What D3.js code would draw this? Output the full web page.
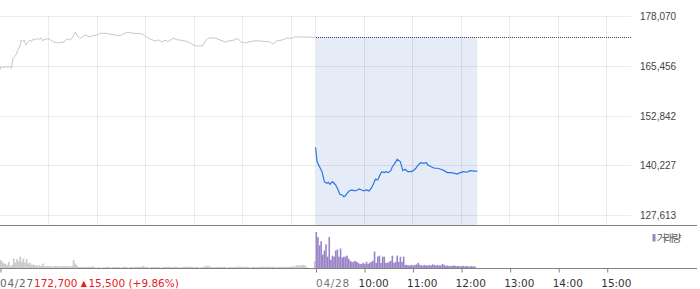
<!DOCTYPE html>
<html>
<head>
<meta charset="utf-8">
<script src="https://cdn.jsdelivr.net/npm/d3@7/dist/d3.min.js"></script>
<style>
  body { margin: 0; background: #fff; }
  svg { display: block; font-family: "DejaVu Sans", sans-serif; }
</style>
</head>
<body>
<script>
// price axis (right side)
var priceTicks = [127613, 140227, 152842, 165456, 178070];
var prevClose = 172700;

// 04/27 summary shown under the chart
var day1Label = '04/27', day2Label = '04/28';
var closeText = '172,700', changeText = '15,500', changePctText = '(+9.86%)';
var hourLabels = ['10:00', '11:00', '12:00', '13:00', '14:00', '15:00'];

// 04/27 price line (time, price)
var day1Times = ['09:00','09:01','09:04','09:07','09:10','09:12','09:14','09:16','09:18','09:20',
  '09:22','09:24','09:25','09:26','09:28','09:30','09:32','09:35','09:37','09:39',
  '09:41','09:43','09:46','09:49','09:51','09:53','09:55','09:57','09:59','10:02',
  '10:06','10:10','10:14','10:19','10:23','10:27','10:30','10:33','10:35','10:39',
  '10:43','10:46','10:50','10:54','10:59','11:04','11:10','11:16','11:22','11:28',
  '11:35','11:37','11:43','11:49','11:56','11:59','12:03','12:08','12:12','12:16',
  '12:20','12:24','12:28','12:34','12:40','12:45','12:49','12:55','13:00','13:05',
  '13:11','13:13','13:17','13:22','13:26','13:32','13:38','13:44','13:50','13:54',
  '13:58','14:03','14:09','14:15','14:21','14:28','14:34','14:37','14:42','14:49',
  '14:55','15:01','15:05','15:08','15:13','15:21','15:30'];
var day1Prices = [164400,165200,165000,165300,165100,165300,164800,167350,167800,168350,
  169450,170200,170700,172000,171500,172000,170700,171500,172000,171600,
  172250,172000,172400,172100,172500,171750,172300,172050,172400,172050,
  171550,171300,171300,171550,172250,172000,172750,173950,173250,172400,
  173000,173250,172750,173000,173250,173700,173700,173500,173250,173100,
  173750,173950,173750,173650,173500,173000,172500,172050,171750,172000,
  171500,171900,171600,172400,172000,171900,171750,171250,170550,170450,
  170550,171500,172400,172550,172500,172000,171500,171800,172000,172400,
  171400,171250,171550,171800,171750,171600,171500,170950,171750,172000,
  172500,172400,172850,172750,172750,172700,172700];

// 04/28 price line (time, price)
var day2Times = ['09:00','09:02','09:05','09:08','09:11','09:14','09:16','09:18','09:21','09:23',
  '09:25','09:28','09:30','09:33','09:35','09:37','09:39','09:42','09:45','09:48',
  '09:52','09:54','09:57','10:00','10:03','10:06','10:09','10:12','10:14','10:17',
  '10:20','10:22','10:25','10:27','10:30','10:33','10:35','10:38','10:41','10:45',
  '10:48','10:51','10:54','10:58','11:01','11:04','11:07','11:10','11:14','11:17',
  '11:19','11:23','11:27','11:31','11:35','11:39','11:43','11:47','11:51','11:55',
  '11:59','12:03','12:07','12:11','12:16','12:20'];
var day2Prices = [144800,141150,139900,138650,136100,135700,135950,135450,136100,135700,
  135250,134000,132900,132750,132300,132500,133150,133800,134000,133800,
  134000,134250,134000,133800,134000,133750,134450,135700,136700,136550,
  137950,138650,138400,138650,138400,138900,139900,140750,141750,141150,
  138900,139250,138650,138650,138900,139500,140350,140900,140750,140900,
  140350,139900,139500,139500,139250,138900,138400,138400,138250,138050,
  138400,138650,138500,138900,138800,138800];

// volume, 2-minute buckets from 09:00 (thousand shares)
var day1Volume = [7.7,6,4.3,4.3,2.7,6,2,3,9.3,5.3, 8.7,6.7,11,6,9.3,5.3,8.7,4.3,5.3,3.3,
  3.3,2.7,2.7,2,2.7,2,4.3,1.7,1.7,2, 1.7,1.7,1.3,1.7,2,1.7,1.7,1.3,1.7,1.7,
  2,1.7,1.7,1.3,2,7.7,4.3,2.7,1,1, 1,1,1,1,1,1.3,1,1.7,0.7,0,
  0.7,0.7,0,0.7,0.7,0.7,1.2,1,0,1, 1,0.7,1,1,0,1,1,1.3,1,0,
  1,1,0.7,1,1,1.3,1,1.3,2,1.3, 1,1,0,1,1,1,0.7,1,1,0,
  1,0.7,1,1,1.3,1,1,0.7,1.3,1, 1,0,1,1,1.3,1,1.3,1.3,1,1,
  0.7,1,1,0,1,1,1.3,2,2,1.7, 1,1,0.7,1,1,1,1,1,1.3,1,
  0,1,1,0.7,1,1,1.3,1.3,1.3,1.3, 1,1,1.3,1,0,1,1,0.7,1,1,
  1,1.3,1.3,1,1.3,1.3,1,1,1.3,1, 0.7,1,1,1,1.3,1,1.3,1,1,1.3,
  1.3,2,1.3,2.7,2.7,2.3,2.7,3,2.7,1, 0,0,0,0,6.7];
var day2Volume = [35,30,22,26,13,17,23,11,30,8, 12,11,17,18,11,19,10,11,11,12,
  9,7,6,6,7,6,5,4,4,5, 4,6,4,5,6,7,16,5,11,12,
  5,11,11,5,5,6,7,12,5,6, 12,6,11,6,11,3,3,2.5,2.5,3,
  2.5,3,3.5,5,3,2.5,2.5,3,2.5,2.5, 3,2.5,3.5,3,2.5,3,2.5,2.5,4,3,
  2,2.5,2,2,2,2.5,2,2,2,1.5, 2,2,1.5,2,1.5,1.5,2,1.5,1.5];

//setup sizes
var width = 700, height = 289;
var plotRight = 631, panelBottom = 225.5, axisY = 268.5;

//trading minutes: 04/27 09:00 = 0, 04/28 09:00 = 390
function toMinute(day, t) {
    var p = t.split(':');
    return day * 390 + (+p[0] - 9) * 60 + (+p[1]);
}

var xScale = d3.scaleLinear().domain([0, 780]).range([0, plotRight]);
var yScale = d3.scaleLinear().domain([priceTicks[0], priceTicks[priceTicks.length - 1]]).range([215.2, 16]);
var vScale = d3.scaleLinear().domain([0, 35]).range([268, 232]);

var day1 = day1Times.map(function(t, i) { return {m: toMinute(0, t), p: day1Prices[i]}; });
var day2 = day2Times.map(function(t, i) { return {m: toMinute(1, t), p: day2Prices[i]}; });

var svg = d3.select('body').append('svg')
    .attr('width', width)
    .attr('height', height);

//blue box from previous close down to panel bottom
var boxX0 = Math.round(xScale(390)), boxX1 = xScale(day2[day2.length - 1].m);
svg.append('rect')
    .attr('x', boxX0)
    .attr('y', yScale(prevClose))
    .attr('width', boxX1 - boxX0)
    .attr('height', panelBottom - yScale(prevClose))
    .attr('fill', '#e5ecf8');

//horizontal grid + right labels
var yAxis = d3.axisRight(yScale)
    .tickValues(priceTicks)
    .tickSize(0)
    .tickPadding(9)
    .tickFormat(d3.format(','));
var yg = svg.append('g')
    .attr('transform', 'translate(' + plotRight + ',0)')
    .call(yAxis);
yg.select('.domain').remove();
yg.selectAll('text')
    .attr('fill', '#444')
    .style('font-size', '10px')
    .attr('dy', '3.5')
    .attr('x', 9);

svg.append('g').selectAll('line')
    .data(priceTicks)
    .enter().append('line')
    .attr('x1', 0)
    .attr('x2', plotRight)
    .attr('y1', function(d) { return Math.round(yScale(d)) + 0.5; })
    .attr('y2', function(d) { return Math.round(yScale(d)) + 0.5; })
    .attr('stroke', 'rgba(0,0,0,0.08)');

//vertical grid every hour
var gridMinutes = d3.range(60, 390, 60).concat([390]).concat(d3.range(450, 780, 60));
svg.append('g').selectAll('line')
    .data(gridMinutes)
    .enter().append('line')
    .attr('x1', function(d) { return Math.floor(xScale(d)) + 0.5; })
    .attr('x2', function(d) { return Math.floor(xScale(d)) + 0.5; })
    .attr('y1', 16)
    .attr('y2', panelBottom)
    .attr('stroke', 'rgba(0,0,0,0.08)');

//previous close dotted line
svg.append('line')
    .attr('x1', Math.round(xScale(390)))
    .attr('x2', plotRight)
    .attr('y1', Math.round(yScale(prevClose)) + 0.5)
    .attr('y2', Math.round(yScale(prevClose)) + 0.5)
    .attr('stroke', '#444')
    .attr('stroke-dasharray', '1,1')
    .attr('shape-rendering', 'crispEdges');

//price lines
var line = d3.line()
    .x(function(d) { return xScale(d.m); })
    .y(function(d) { return yScale(d.p); });

svg.append('path')
    .datum(day1)
    .attr('d', line)
    .attr('fill', 'none')
    .attr('stroke', '#c8c8c8')
    .attr('stroke-width', 1);

svg.append('path')
    .datum(day2)
    .attr('d', line)
    .attr('fill', 'none')
    .attr('stroke', '#2b76e0')
    .attr('stroke-width', 1.2);

//volume bars
function drawVolume(data, day, color) {
    svg.append('g').selectAll('rect')
        .data(data)
        .enter().append('rect')
        .attr('x', function(d, i) { return xScale(day * 390 + i * 2); })
        .attr('width', function(d, i) { return xScale(day * 390 + i * 2 + 2) - xScale(day * 390 + i * 2); })
        .attr('y', function(d) { return vScale(d); })
        .attr('height', function(d) { return vScale(0) - vScale(d); })
        .attr('fill', color);
}
drawVolume(day1Volume, 0, '#c8c8c8');
drawVolume(day2Volume, 1, '#9a84c6');

//panel separators
svg.append('line')
    .attr('x1', 0).attr('x2', 697)
    .attr('y1', panelBottom).attr('y2', panelBottom)
    .attr('stroke', '#808080');

//time axis
var tickMinutes = [0, 390].concat(d3.range(450, 780, 60));
var xAxis = d3.axisBottom(xScale)
    .tickValues(tickMinutes)
    .tickSize(4)
    .tickFormat('');
var xg = svg.append('g')
    .attr('transform', 'translate(0,' + axisY + ')')
    .call(xAxis);
xg.select('.domain').remove();
xg.selectAll('line').attr('stroke', '#808080')
    .attr('transform', function() { return 'translate(0.5,0)'; });
svg.append('line')
    .attr('x1', 0).attr('x2', 697)
    .attr('y1', axisY).attr('y2', axisY)
    .attr('stroke', '#808080');

var labelY = 286.5;
svg.append('text')
    .attr('x', 0).attr('y', labelY)
    .attr('fill', '#666')
    .style('font-size', '10.5px')
    .style('letter-spacing', '0.7px')
    .text(day1Label);

var red = svg.append('text')
    .attr('x', 34).attr('y', labelY)
    .attr('fill', '#e8201e')
    .style('font-size', '10.5px');
red.append('tspan').text(closeText + ' ');
red.append('tspan').style('font-size', '8px').attr('dy', -0.5).text('\u25B2');
red.append('tspan').attr('dx', 1.5).attr('dy', 0.5).text(changeText + ' ' + changePctText);

svg.append('text')
    .attr('x', xScale(390) + 0.5).attr('y', labelY)
    .attr('fill', '#777')
    .style('font-size', '10.5px')
    .style('letter-spacing', '0.7px')
    .text(day2Label);

svg.append('g').selectAll('text')
    .data(hourLabels)
    .enter().append('text')
    .attr('x', function(d) { return xScale(toMinute(1, d)) - 5.5; })
    .attr('y', labelY)
    .attr('fill', '#333')
    .style('font-size', '10.5px')
    .text(function(d) { return d; });

//legend
svg.append('rect')
    .attr('x', 652.5).attr('y', 234)
    .attr('width', 3).attr('height', 7.5)
    .attr('fill', '#9a84c6');
svg.append('text')
    .attr('x', 657).attr('y', 241.5)
    .attr('fill', '#555')
    .style('font-family', '"Noto Sans CJK KR", sans-serif')
    .style('font-size', '10px')
    .style('letter-spacing', '-1.6px')
    .text('거래량');
</script>
</body>
</html>
